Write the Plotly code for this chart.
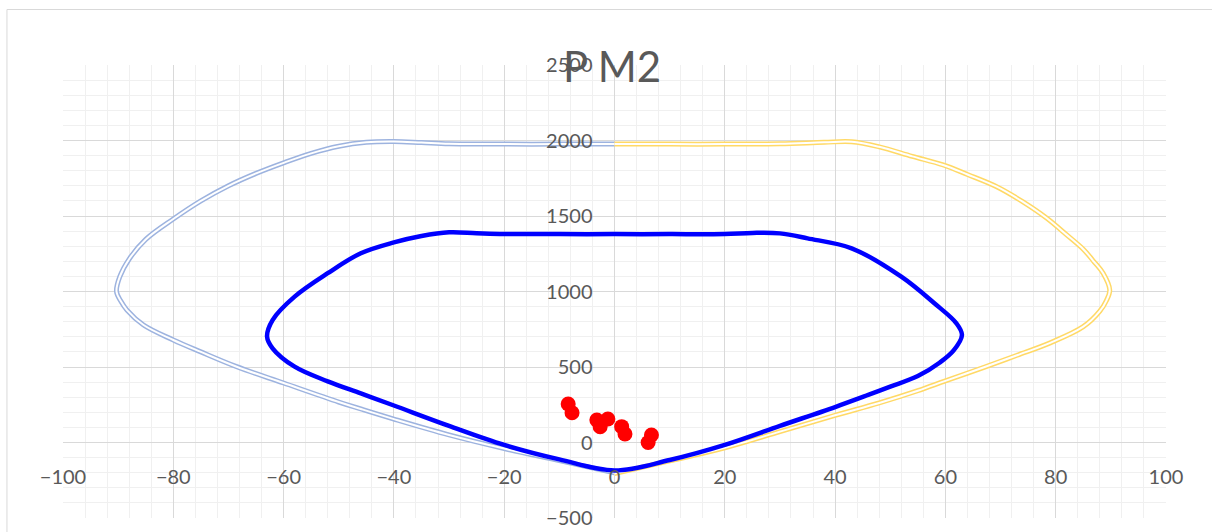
import plotly.graph_objects as go

# outer envelope, left half (M negative), from top at M=0 round the tip to the bottom
outer_left_m = [0, -10, -20, -30, -35, -40, -45, -50, -55, -60, -65, -70, -75, -80,
                -85, -88, -89.7, -90.3, -89.5, -88.4, -85.4, -80, -75, -68.5, -60, -50,
                -46, -40, -30, -20, -10, 0]
outer_left_p = [1976, 1976, 1976, 1978, 1986, 1993, 1988, 1962, 1915, 1852, 1782, 1700, 1600, 1480,
                1345, 1215, 1098, 1000, 935, 877, 778, 679, 600, 502, 394, 268,
                222, 155, 50, -40, -120, -200]

# outer envelope, right half (M positive)
outer_right_m = [0, 10, 20, 30, 38, 43, 48, 54, 59.6, 64, 69.3, 74, 78.4, 82, 85, 87,
                 88.6, 89.8, 89.2, 88, 85, 79, 73, 67, 60, 55, 48, 40, 30, 20, 10, 0]
outer_right_p = [1976, 1976, 1976, 1978, 1988, 1992, 1958, 1895, 1838, 1775, 1694, 1595, 1485, 1375, 1280, 1195,
                 1121, 1010, 940, 870, 767, 660, 578, 498, 408, 343, 262, 180, 72, -35, -122, -205]

# design curve (closed loop)
design_m = [0, -10, -20, -25, -30, -35, -40, -46, -52, -58, -62, -63, -62, -58, -52, -46,
            -40, -30, -20, -10, 0, 10, 20, 30, 40, 46, 50, 55, 59, 61.5, 63, 62, 58, 52, 43,
            35, 30, 25, 20, 10, 0]
design_p = [1380, 1380, 1381, 1386, 1392, 1368, 1325, 1253, 1121, 966, 811, 701, 624, 502, 405, 325,
            245, 110, -16, -112, -185, -116, -16, 110, 235, 315, 370, 440, 530, 610, 712, 789, 922, 1098, 1286,
            1352, 1385, 1388, 1381, 1380, 1380]

# load points
load_m = [-8.4, -7.7, -3.2, -2.6, -1.2, 1.3, 1.9, 6.7, 6.1]
load_p = [255, 197, 149, 105, 156, 105, 56, 50, 0]

fig = go.Figure()

# double (compound) lines: wide coloured line with a thin white line on top
fig.add_trace(go.Scatter(x=outer_left_m, y=outer_left_p, mode='lines',
                         line=dict(color='#9db3df', width=5, shape='spline', smoothing=1)))
fig.add_trace(go.Scatter(x=outer_left_m, y=outer_left_p, mode='lines',
                         line=dict(color='white', width=2, shape='spline', smoothing=1)))
fig.add_trace(go.Scatter(x=outer_right_m, y=outer_right_p, mode='lines',
                         line=dict(color='#ffd966', width=5, shape='spline', smoothing=1)))
fig.add_trace(go.Scatter(x=outer_right_m, y=outer_right_p, mode='lines',
                         line=dict(color='white', width=2, shape='spline', smoothing=1)))

fig.add_trace(go.Scatter(x=design_m, y=design_p, mode='lines',
                         line=dict(color='#0000ff', width=4.5, shape='spline', smoothing=1)))

fig.add_trace(go.Scatter(x=load_m, y=load_p, mode='markers',
                         marker=dict(color='#ff0000', size=15)))

fig.update_layout(
    width=1212, height=532,
    margin=dict(l=63, r=46, t=65, b=14, autoexpand=False),
    plot_bgcolor='white', paper_bgcolor='white',
    showlegend=False,
    font=dict(family='Lato', size=20, color='#595959'),
    title=dict(text='P M2', x=0.505, xanchor='center', y=0.874, yanchor='middle',
               font=dict(family='Lato', size=42, color='#595959')),
)

fig.update_xaxes(range=[-100, 100], tick0=0, dtick=20, showgrid=True, gridcolor='#d9d9d9', gridwidth=1,
                 zeroline=False, showline=False, ticks='', automargin=False,
                 minor=dict(dtick=4, showgrid=True, gridcolor='#f0f0f0', gridwidth=1.3),
                 anchor='free', position=1 / 6, ticklabelstandoff=20)
fig.update_yaxes(range=[-500, 2500], tick0=0, dtick=500, showgrid=True, gridcolor='#d9d9d9', gridwidth=1,
                 zeroline=False, showline=False, ticks='', automargin=False,
                 minor=dict(dtick=100, showgrid=True, gridcolor='#f0f0f0', gridwidth=1.3),
                 anchor='free', position=0.5, ticklabelstandoff=22)

# chart area border
fig.add_shape(type='rect', xref='paper', yref='paper', x0=-0.0508, x1=1.2, y0=-0.5, y1=1.1225,
              line=dict(color='#d9d9d9', width=1), layer='below')

fig.write_html("out.html", config={'displayModeBar': False},
               post_script="document.body.style.margin='0';")
